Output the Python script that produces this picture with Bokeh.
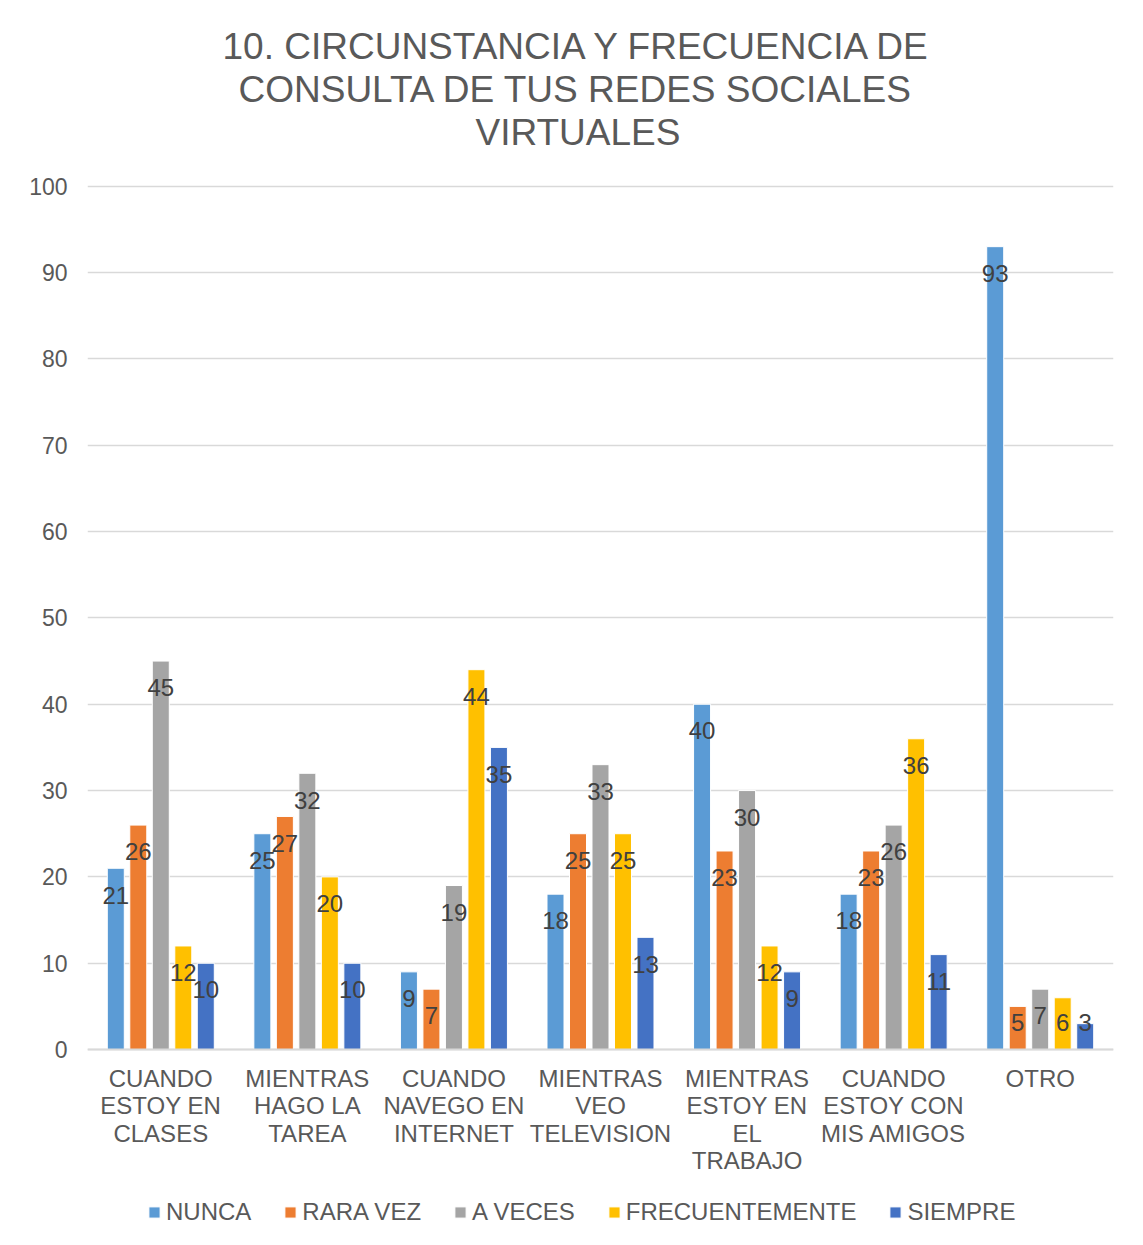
from bokeh.plotting import figure
from bokeh.models import (ColumnDataSource, Range1d, FixedTicker, Legend,
                          LegendItem, LabelSet, Title, Span)
from bokeh.core.properties import value
from bokeh.embed import file_html
from bokeh.resources import INLINE

categories = ["CUANDO\nESTOY EN\nCLASES", "MIENTRAS\nHAGO LA\nTAREA",
              "CUANDO\nNAVEGO EN\nINTERNET", "MIENTRAS\nVEO\nTELEVISION",
              "MIENTRAS\nESTOY EN\nEL\nTRABAJO", "CUANDO\nESTOY CON\nMIS AMIGOS",
              "OTRO"]
series_names = ["NUNCA", "RARA VEZ", "A VECES", "FRECUENTEMENTE", "SIEMPRE"]
nunca = [21, 25, 9, 18, 40, 18, 93]
rara_vez = [26, 27, 7, 25, 23, 23, 5]
a_veces = [45, 32, 19, 33, 30, 26, 7]
frecuentemente = [12, 20, 44, 25, 12, 36, 6]
siempre = [10, 10, 35, 13, 9, 11, 3]
y_ticks = [0, 10, 20, 30, 40, 50, 60, 70, 80, 90, 100]
title_lines = ["10. CIRCUNSTANCIA Y FRECUENCIA DE", "CONSULTA DE TUS REDES SOCIALES", "VIRTUALES"]

series_values = [nunca, rara_vez, a_veces, frecuentemente, siempre]
colors = ["#5B9BD5", "#ED7D31", "#A5A5A5", "#FFC000", "#4472C4"]

FONT = "Liberation Sans"
PX_PER_UNIT = 8.633
Y_MIN, Y_MAX = -22.0, 100.2
frame_h = int(round((Y_MAX - Y_MIN) * PX_PER_UNIT))

p = figure(frame_width=1026, frame_height=frame_h, output_backend="svg", toolbar_location=None,
           x_range=Range1d(-0.5, len(categories) - 0.5), y_range=Range1d(Y_MIN, Y_MAX),
           min_border_left=87, min_border_right=22, min_border_top=184,
           min_border_bottom=0, title=None, x_axis_location=None)
p.outline_line_color = None
p.border_fill_color = "white"
p.background_fill_color = "white"

# title lines stacked above the frame (closest first)
p.add_layout(Title(text=" ", text_font_size="26px", standoff=0), "above")
title_offsets = [135, 151, 388]
for line, off in reversed(list(zip(title_lines, title_offsets))):
    p.add_layout(Title(text=line, align="left", offset=off, text_font=FONT,
                       text_font_size="37px", text_font_style="normal",
                       text_color="#595959", standoff=0), "above")

step = 0.1535
bw = 0.116
items = []
for k, (name, vals, col) in enumerate(zip(series_names, series_values, colors)):
    xs = [i + (k - 2) * step for i in range(len(categories))]
    ly = [max(v - 3.1, 3.1) for v in vals]
    src = ColumnDataSource(dict(x=xs, top=vals, ly=ly, lab=[str(v) for v in vals]))
    r = p.vbar(x="x", top="top", width=bw, source=src, fill_color=col,
               line_color="white", line_width=1)
    items.append(LegendItem(label=name, renderers=[r]))
    lbl = LabelSet(x="x", y="ly", text="lab", source=src, text_font=value(FONT),
                   text_font_size="24px", text_color="#404040", text_align="center",
                   text_baseline="middle")
    p.add_layout(lbl)

# category axis line and wrapped category labels (below the zero line)
p.add_layout(Span(location=0, dimension="width", line_color="#D9D9D9", line_width=2))
first_line_y = -3.36
line_step = 27.3 / PX_PER_UNIT
cx, cy, ct = [], [], []
for i, c in enumerate(categories):
    for j, part in enumerate(c.split("\n")):
        cx.append(i)
        cy.append(first_line_y - j * line_step)
        ct.append(part)
p.text(x=cx, y=cy, text=ct, text_font=value(FONT), text_font_size="24px",
       text_color="#595959", text_align="center", text_baseline="middle")

p.yaxis.ticker = FixedTicker(ticks=y_ticks)
p.yaxis.major_label_text_font = FONT
p.yaxis.major_label_text_font_size = "23px"
p.yaxis.major_label_text_color = "#595959"
p.yaxis.major_tick_line_color = None
p.yaxis.minor_tick_line_color = None
p.yaxis.axis_line_color = None
p.yaxis.major_label_standoff = 14

p.xgrid.grid_line_color = None
p.ygrid.grid_line_color = "#D9D9D9"
p.ygrid.grid_line_width = 1.5

legend = Legend(items=items, orientation="horizontal", location=(60, 13),
                label_text_font=FONT, label_text_font_size="24px",
                label_text_color="#595959", glyph_width=14, glyph_height=14,
                label_standoff=5, spacing=32, padding=0, margin=0,
                border_line_color=None, background_fill_alpha=0)
p.add_layout(legend, "center")

open("out.html", "w").write(file_html(p, INLINE))
